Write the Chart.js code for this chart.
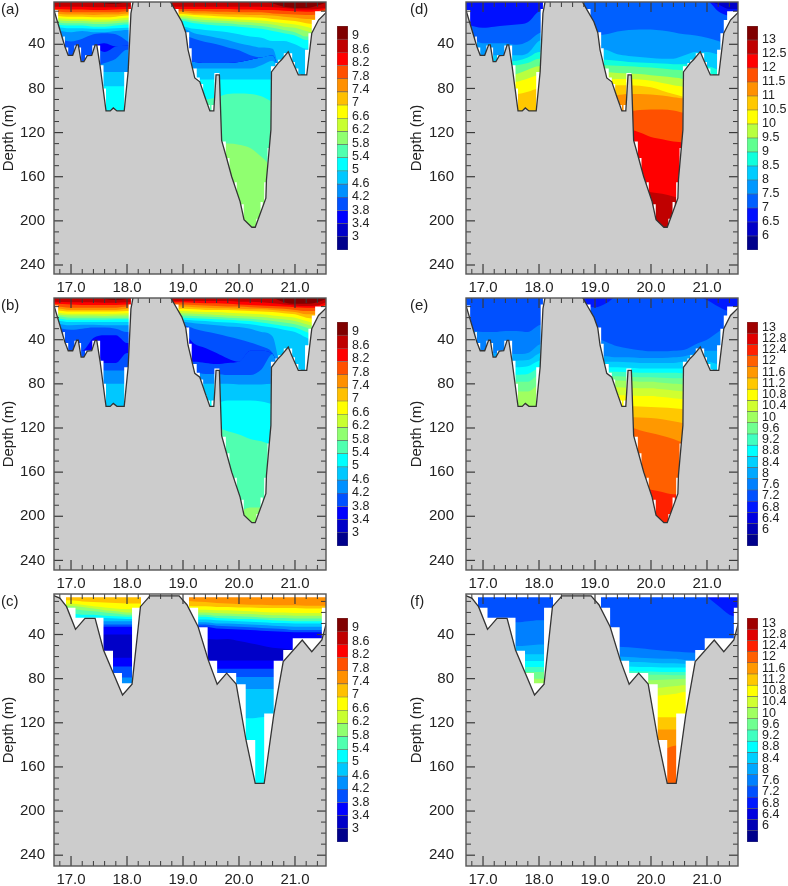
<!DOCTYPE html>
<html><head><meta charset="utf-8">
<style>
html,body{margin:0;padding:0;background:#fff;width:788px;height:886px;overflow:hidden}
canvas{position:absolute}
.tag{position:absolute;font:15px "Liberation Sans",sans-serif;color:#222;line-height:18px}
</style>
<script src="https://cdn.jsdelivr.net/npm/chart.js@4"></script>
</head><body>
<script>
const xNodes=[16.69,17,17.2,17.4,17.6,17.8,18,18.2, 19,19.2,19.4,19.6,19.8,20,20.2,20.4,20.6,20.8,21,21.2,21.4,21.56];
const xMajor=[17,18,19,20,21];
const xMinor=[16.8,17.2,17.4,17.6,17.8,18.2,18.4,18.6,18.8,19.2,19.4,19.6,19.8,20.2,20.4,20.6,20.8,21.2,21.4];
const yMajor=[40,80,120,160,200,240];
const yMinor=[10,20,30,50,60,70,90,100,110,130,140,150,170,180,190,210,220,230];

const terrainLonFine=[16.69,16.89,16.95,17.03,17.10,17.13,17.18,17.23,17.29,17.37,17.43,17.46,17.52,17.625,17.70,17.755,17.82,17.95,18.02,18.07,18.11,18.77,18.86,18.98,19.05,19.09,19.21,19.30,19.39,19.48,19.55,19.59,19.65,19.69,19.78,19.87,20.02,20.09,20.23,20.29,20.48,20.49,20.57,20.58,20.70,20.76,20.88,20.94,21.06,21.21,21.30,21.42,21.57];
const terrainDepFine=[8,42,50,50,40.5,40.5,55.7,55.7,50.3,50,40.6,40.6,60,100.4,100.4,97.7,100.4,100.4,65,12,1,1,9,19.5,29.5,45,70.5,74,87.5,100.4,100.4,67.8,67.8,127,143.3,160,182.6,199,205.8,205.8,179.5,163,117.6,65,57,54,46.7,54,67.8,67.8,30,18,10.5];
const terrainLonGrid=[16.69,16.80,16.92,17.08,17.25,17.43,17.58,17.92,18.09,18.24,18.41,18.93,19.07,19.27,19.45,19.61,19.78,19.95,20.125,20.29,20.45,20.62,20.79,21.13,21.30,21.48,21.57];
const terrainDepGrid=[4.8,7,14.8,35.3,25.3,25.3,54,94.8,85,14.8,5,5,13,33,63,85,75,85,135.6,175,175,113,64.6,45,55.6,45,28];

const maskLonFine=[16.69,16.77,16.86,16.89,16.95,17.06,17.12,17.18,17.25,17.29,17.38,17.46,17.52,17.58,17.625,17.95,18.03,18.07,18.8,18.92,19.05,19.11,19.155,19.245,19.3,19.36,19.42,19.48,19.51,19.56,19.65,19.765,19.79,19.83,19.92,19.96,20.04,20.085,20.31,20.345,20.385,20.425,20.45,20.485,20.51,20.545,20.57,20.65,20.7,20.8,20.88,20.95,21.0,21.06,21.1,21.18,21.24,21.3,21.36,21.42,21.57];
const maskDepFine=[9,40,33,43,50,41,43,56,50,50,41,41,59,80,100.4,65,8,1,8,30,29,43.6,62,70,76,90,95,100.4,95,66,128,206,143,206,165,206,185,206,198,206,183,206,165,206,134,206,60,57,54,48,48,56,62,67,68,45,30,18,10,10,10];
const maskLonGrid=[16.69,16.91,17.08,17.58,17.75,17.91,18.09,18.25,19.107,19.27,19.44,19.61,19.95,20.12,20.29,20.45,20.62,20.79,20.96,21.48,21.57];
const maskDepGrid=[1,15.7,24.8,54.7,75,84.2,15.7,1,15.7,33.5,63.7,75,85,135.6,176,111.5,63.7,54,43.5,15.7,15.7];
const gridTopDepth=6.3;

const colorsThree=['#00008c','#0000c8','#0000ff','#0050ff','#0090ff','#00c8ff','#00ffff','#50ffb0','#90ff70','#c8ff30','#ffff00','#ffc000','#ff9000','#ff5000','#ff0000','#c00000','#800000'];
const labelsThree=['3','3.4','3.8','4.2','4.6','5','5.4','5.8','6.2','6.6','7','7.4','7.8','8.2','8.6','9'];
const colorsHalf=['#00008c','#0000c8','#0010ff','#0060ff','#0098ff','#00ccff','#10ffdc','#60ff90','#b8ff40','#ffff00','#ffc800','#ff9000','#ff5000','#ff0000','#c00000','#800000'];
const labelsHalf=['6','6.5','7','7.5','8','8.5','9','9.5','10','10.5','11','11.5','12','12.5','13'];
const colorsFine=['#00008c','#0000b4','#0000e0','#0018ff','#0050ff','#0080ff','#00a8ff','#00d0ff','#00ffff','#40ffc0','#70ff90','#a0ff60','#d0ff30','#ffff00','#ffc800','#ff9800','#ff6000','#ff2000','#e00000','#a00000'];
const labelsFine=['6','6.4','6.8','7.2','7.6','8','8.4','8.8','9.2','9.6','10','10.4','10.8','11.2','11.6','12','12.4','12.8','13'];

const orderA=[16,15,14,13,12,11,10,9,8,7,6,5,4,3,2,3,4,5,6,7,8];
const bandsA=[
[1,1,1,1,3,3.5,2,1, 1,1,1,1,1,1,1,1,3,6,7,7,5,2],
[6,6,6,6.5,6.5,6.5,6,6, 6,6,6,6,6,6,6,6,6.5,7,8,8.5,8,7],
[8,8.5,8.5,9,9,8.5,8,8, 8,8,8,8,8,8.5,8.5,9,9,9.5,10,10.5,10,8],
[10,11,11,11,11,11,10,10, 9.5,10,10,10.5,10.5,11,11,11,12,12.5,13,13.5,13,10],
[12,13,13,13.5,13,13,12,12, 11,12,12,12.5,13,13,13.5,13.5,14,15,16,17,17,13],
[14,15,15,15.5,15.5,15,14,14, 12.5,13.5,14,14.5,15,15.5,15.5,16,17,18,19,21,22,16],
[16,17,17,17.5,17.5,17,16,16, 14,15,16,16.5,17,17.5,18,18.5,19.5,21,22,24,26,19],
[18,19,19,19.5,19.5,19,18,18, 15.5,17,18,18.5,19,19.5,20,21,22,24,25,28,30,22],
[20,21,21,21.5,21.5,21,20,20, 17,19,20,20.5,21,22,22.5,23.5,25,27,29,33,33,25],
[22,23,23,24,24,23,22,22, 19,21,22,23,23.5,24,25,26,28,30,32,36,36,28],
[24,25.5,25.5,26,26,25.5,25,25, 24,26,27,28,29,31,33,34,37,37,40,44,44,30],
[27,29,28,29,29,28,27,27, 26,30,32,34,36,39,41,43,44,75,75,75,75,75],
[33,37.5,35,31,30,31,37,45, 32,35,38,40,43,45.5,50,52,50,75,75,75,75,75],
[60,60,60,43,39,42,41,45, 55,56,57,57,57,56,54,52,50,75,75,75,75,75],
[60,60,60,43,47,42,41,45, 55,56,57,57,57,56,54,52,50,75,75,75,75,75],
[60,60,60,60,57,53,45,45, 55,56,57,57,57,56,54,52,50,75,75,75,75,75],
[62,62,62,62,65,65,65,65, 62,62,62,62,62,62,62,59,55,75,75,75,75,75],
[78,78,78,78,78,78,78,78, 72,72,72,72,72,72,72,72,72,75,75,75,75,75],
[110,110,110,110,110,110,110,110, 90,90,90,88,85,84.5,85,87,92,95,95,95,95,95],
[120,120,120,120,120,120,120,120, 130,130,130,130,130,131,134,142,150,150,150,150,150,150]];

const orderB=[16,15,14,13,12,11,10,9,8,7,6,5,4,3,2,3,4,5,6,7,8];
const bandsB=[
[1,1,1,1,3,4,3,1, 1,1,1,1,1,1,1,1,2,6,7.5,7.5,6,3],
[5.5,6,6,6,6.5,6.5,6,6, 5,5,5,5,5,5.5,5.5,6,7,8,9,9.5,9,6],
[7.5,8,8.5,8.5,8.5,8.5,8,8, 6,6.5,7,7,7.5,8,8.5,9,9.5,10,10.5,11,11,8],
[9.5,11,11,11,11,11,10,10, 8,8.5,9,9.5,10,10,10.5,11,11.5,12,13,14,14,10],
[11,13,13,13,13,13,12,12, 10,10.5,11,11.5,11.5,12,12.5,12.5,13,14,15,17,17,12],
[13,14.5,14.5,14.5,14.5,14.5,14,14, 12,12.5,13,13,13,13.5,14,14.5,15,16,17,20,21,14],
[15,16.5,16.5,16.5,16.5,16.5,16,16, 14,14.5,15,15,15.5,16,16.5,17,18,19,20,23,25,17],
[17,18,18,18,18.5,18,18,18, 16,16.5,17,17.5,18,18.5,19,19.5,20.5,21.5,23,26,28,20],
[18,20,20,20,20,20,20,20, 18,18.5,19,19.5,20,20.5,21,22,23,24.5,26,29,32,23],
[20,22,22,22,22,21.5,21.5,21.5, 20,20.5,21,21.5,22,22.5,23,24.5,26,27.5,29,33,36,26],
[22,24,24,24,24,24,24,24, 22,22.5,23,24,24.5,25,26,27.5,29,31,33,38,42,29],
[25,27,26.5,26.5,27,27,27,27, 24,25,26,27,28,28.5,30,33,37,75,75,75,75,75],
[29,31,30,29,29,30,33,33, 27,30,32.5,34.5,37,39.5,42.5,46,52,75,75,75,75,75],
[50,50,50,38.5,36,36,43,43, 34,43.6,47.5,52,57,60,50,50,53,75,75,75,75,75],
[50,50,50,49,61,61,52,52, 60,60,61,62,61,60,50,50,53,75,75,75,75,75],
[60,60,60,60,68,68,68,68, 70,70,71,71,72,72,72,67,53,75,75,75,75,75],
[80,80,80,80,80,80,80,80, 80,80,80,80,80,80.5,80.5,80.5,80,80,80,80,80,80],
[110,110,110,110,110,110,110,110, 94,94,94,97,95,95,95,96,98,98,98,98,98,98],
[120,120,120,120,120,120,120,120, 120,120,120,120,123,126,130,132,135,135,135,135,135,135],
[130,130,130,130,130,130,130,130, 195,195,195,195,195,195,192,192,192,192,192,192,192,192]];

const orderC=[12,11,10,9,8,7,6,5,4,3,2,1,2,3,4,5,6];
const bandsC=[
[6,6,6,6,6,6,6,6, 9.5,10,10.5,11.5,12,12.5,13,13,13.5,13.5,13.5,14,14,14],
[9,9,10,10.5,11,11.5,12,12, 14,14.5,14.5,15,15,15.5,15.5,16,16,16,16,16.5,16.5,16.5],
[12,12,13,14.5,15.5,16.5,17,17, 17,17.5,17.5,18,18,18.5,19,19.5,20,20,20.5,20.5,20.5,20.5],
[14,14,15,16.5,18,19,20,20, 19.5,20,20,20.5,21,21.5,21.5,22,22.5,22.5,23,23,23,23],
[17,17,18,19,20,21,22,22, 21.5,22,22,23,23,23.5,24,24.5,25,25,25.5,25.5,25.5,25.5],
[21,21,22,22,23,23.5,24,24, 23.5,24,24,25,25.5,26,26,26.5,27,27.5,28,28,28,28],
[25,25,25,25,25,25.5,26,26, 26,26.5,26.5,27,27.5,28,28.5,29,29.5,29.5,30,30,30,30],
[28,28,28,28,28,28,28,28, 28.5,29,29,30,30,30.5,31,31.5,32,32.5,33,33,33,33],
[31,31,31,31,31,31,31,31, 31,31,31,32,32.5,33,33.5,34,34.5,35,36,36,36,36],
[33,33,33,33,33,33,33,33, 33,33,33,34.5,35,35.5,36,36.5,37,37.5,38,38,38,38],
[40,40,40,40,40,40,40,40, 44,44,44,44.5,44,46,48,50,52,53,54,55,55,55],
[61,61,61,61,61,61,61,61, 63.5,63.5,63.5,63.5,63.5,63.5,63.5,63.5,63.5,63.5,63.5,63.5,63.5,63.5],
[69,69,69,69,69,69,69,69, 71,71,71,71,71,71,71,71,71,71,71,71,71,71],
[79,79,79,79,79,79,79,79, 78.6,78.6,78.6,78.6,78.6,78.6,78.6,78.6,78.6,78.6,78.6,78.6,78.6,78.6],
[90,90,90,90,90,90,90,90, 89.5,89.5,89.5,89.5,89.5,89.5,89.5,89.5,89.5,89.5,89.5,89.5,89.5,89.5],
[120,120,120,120,120,120,120,120, 116,116,116,116,116,116,116,115,114,114,114,114,114,114]];

const orderD=[1,2,3,4,5,6,7,8,9,10,11,12,13,14];
const bandsD=[
[1,1,1,1,1,1,1,1, 1,1,1,1,1,1,1,1,1,1,1,4,8,8],
[22,25,24,23,22,20,10,8, 1,1,1,1,1,1,1,1,1,1,1,10,14,14],
[30,39,39,39,40.5,37.5,30,28, 32,31,28.5,27,26.5,26.5,27.5,29,31,32,34,37,40,40],
[50,50,50,50,50,48,37,35, 44,45,49,50.5,51.5,52.5,53,53,50,47,47,49,48,48],
[60,60,56,56,55,52,47,47, 53,54,55,56,56.5,57,57.5,58,58,60,60,63,65,65],
[62,62,60,60,59,57,53,53, 58,59,59.5,60,60.5,61,62,63,64,70,75,75,75,75],
[70,70,70,70,67,63,60,60, 64,65,66,66.5,67,68,69,70,72,80,80,80,80,80],
[75,75,75,75,74,71,68,68, 72,72,71.5,71.5,72,73,75,77,79,85,85,85,85,85],
[85,85,85,85,85,83,80,80, 77,77,77,77,77.5,79,82,85,88,92,92,92,92,92],
[110,110,110,110,110,110,110,110, 87,87,86,85,85,85.5,86.5,88,89,89,89,89,89,89],
[120,120,120,120,120,120,120,120, 100,100,100,100.5,99.5,99,99,100,102,102,102,102,102,102],
[130,130,130,130,130,130,130,130, 117,117,117,117,120,124,126,128,129,130,130,130,130,130],
[180,180,180,180,180,180,180,180, 172,172,172,172,172,174,175.5,178,180,180,180,180,180,180]];

const orderE=[3,4,5,6,7,8,9,10,11,12,13,14,15,16,17];
const bandsE=[
[1,1,1,1,1,1,1,1, 10.7,7,1,1,1,1,1,1,1,1,4,10,14,14],
[30,33,33,32,32,33,27,25, 38,42,46,48,49.5,50.5,50.5,50,49,44,40,33,26,22],
[50,52,52,52,53,52,44.5,42, 54,55,56,56,56.5,56.5,56.5,56,55,52,50,50,45,40],
[60,60,60,60,59,58.4,52.4,50, 59,60,60,60.5,61,61,61,61,60,60,60,62,60,55],
[66,66,66,66,65,64,59,57, 65,65,65,65.5,66,66,66,66,66,72,72,72,72,72],
[72,72,72,72,71.7,71,65.7,64, 69,69,69,69.5,70,70,70,70,71,75,75,75,75,75],
[78,78,78,78,78,78,71.7,71, 73,73,73,73.5,74,74,74.5,75,75,80,80,80,80,80],
[87,87,87,87,87,87,80.8,80, 77,77,77,77.5,78,78,79,80,81,85,85,85,85,85],
[110,110,110,110,110,110,110,110, 83,83,83,83.5,84,84,85,86,87,90,90,90,90,90],
[120,120,120,120,120,120,120,120, 90,90,90,90.5,91,91,92,93,94,96,96,96,96,96],
[120,120,120,120,120,120,120,120, 100,100,100,100,100.5,101,101.5,102,103,104,104,104,104,104],
[130,130,130,130,130,130,130,130, 110,110,110,110,110.5,111,112,114,116,118,118,118,118,118],
[140,140,140,140,140,140,140,140, 119,119,119,119,122,124.5,127,130,134,137,137,137,137,137],
[180,180,180,180,180,180,180,180, 175,175,175,175,175,176,178,180,180,180,180,180,180,180]];

const orderF=[3,4,5,6,7,8,9,10,11,12,13,14,15,16];
const bandsF=[
[1,1,1,1,1,1,1,1, 1,1,1,1,1,1,1,1,1,1,6,14,22,24],
[30,30,30,29,29,28,27,27, 50,50,51,51.5,52.5,53.5,54.5,55.5,56,56.5,57,57,57,57],
[50,50,50,50,50.5,50,49,49, 60,60,60,60.5,61,61.5,62,62,63,64,64,64,64,64],
[58,58,58,58,58,58,58,58, 65,65,65,65,65,65.5,66,66,66.5,67,67,67,67,67],
[64,64,64,64,64,64,64,64, 69,69,69,69,69.5,69.5,70,70,70,70,70,70,70,70],
[69.5,69.5,69.5,69.5,69.5,69.5,69.5,69.5, 73,73,73,73,73.5,73.5,74,74,74,74,74,74,74,74],
[74,74,74,74,74,74,74,74, 76,76,76,76,76.5,76.5,76.5,77,77,77,77,77,77,77],
[80,80,80,80,80,80,80,80, 81,81,81,81,81.5,81.5,81,80.5,80,80,80,80,80,80],
[90,90,90,90,90,90,90,90, 88,88,88,88,88.5,88.5,88,87,86,86,86,86,86,86],
[120,120,120,120,120,120,120,120, 95,95,95,95,95.5,95.5,95,94,92,92,92,92,92,92],
[120,120,120,120,120,120,120,120, 115,115,115,115,115,115,115,115,115,115,115,115,115,115],
[130,130,130,130,130,130,130,130, 126,126,126,126,126,126,126,126,126,126,126,126,126,126],
[150,150,150,150,150,150,150,150, 144,144,144,144,144,144,144,141,140,140,140,140,140,140]];

const font='"Liberation Sans",sans-serif';
function pts(xs,ys){return xs.map((x,i)=>({x:x,y:ys[i]}));}
function canvas(l,t,w,h){const c=document.createElement('canvas');c.width=w;c.height=h;c.style.left=l+'px';c.style.top=t+'px';c.style.width=w+'px';c.style.height=h+'px';document.body.appendChild(c);return c;}
function tag(txt,l,t){const d=document.createElement('div');d.className='tag';d.textContent=txt;d.style.left=l+'px';d.style.top=t+'px';document.body.appendChild(d);}

const inwardTicks={id:'inwardTicks',afterDraw(ch){
  const c=ch.ctx,a=ch.chartArea,xs=ch.scales.x,ys=ch.scales.y;
  c.save();c.strokeStyle='#3a3a3a';
  const seg=(x1,y1,x2,y2)=>{c.beginPath();c.moveTo(x1,y1);c.lineTo(x2,y2);c.stroke();};
  c.lineWidth=1;
  xMinor.forEach(v=>{const p=xs.getPixelForValue(v);seg(p,a.bottom,p,a.bottom-5);seg(p,a.top,p,a.top+5);});
  yMinor.forEach(v=>{const p=ys.getPixelForValue(v);if(p>a.top&&p<a.bottom){seg(a.left,p,a.left+5,p);seg(a.right,p,a.right-5,p);}});
  c.lineWidth=1.2;
  xMajor.forEach(v=>{const p=xs.getPixelForValue(v);seg(p,a.bottom,p,a.bottom-10);seg(p,a.top,p,a.top+10);});
  yMajor.forEach(v=>{const p=ys.getPixelForValue(v);seg(a.left,p,a.left+9,p);seg(a.right,p,a.right-9,p);});
  c.strokeStyle='#555';c.lineWidth=1.4;c.strokeRect(a.left,a.top,a.right-a.left,a.bottom-a.top);
  c.restore();
}};

function panel(opt){
  const pad=6,axisW=opt.axisW;
  const cv=canvas(opt.left-axisW,opt.top-pad,axisW+272+3,pad+272+28);
  const sets=[];
  sets.push({data:pts(opt.tLon,opt.tDep),fill:'start',backgroundColor:'#cccccc',borderColor:'#333',borderWidth:1.3,tension:0,pointRadius:0});
  if(opt.topMask)sets.push({data:pts([16.69,21.57],[gridTopDepth,gridTopDepth]),fill:'end',backgroundColor:'#fff',borderWidth:0,pointRadius:0});
  sets.push({data:pts(opt.mLon,opt.mDep),fill:'start',backgroundColor:'#fff',borderWidth:0,stepped:true,pointRadius:0});
  opt.bands.forEach((b,i)=>sets.push({data:pts(xNodes,b),fill:'end',backgroundColor:opt.colors[opt.order[i]],borderWidth:0,cubicInterpolationMode:'monotone',pointRadius:0}));
  const bg=opt.colors[opt.order[opt.bands.length]];
  sets.push({data:pts([16.69,21.57],[opt.ymax+5,opt.ymax+5]),fill:'end',backgroundColor:bg,borderWidth:0,pointRadius:0});
  new Chart(cv,{type:'line',data:{datasets:sets},plugins:[inwardTicks],options:{
    responsive:false,animation:false,devicePixelRatio:1,
    layout:{padding:{top:pad,right:3,left:0,bottom:0}},
    plugins:{legend:{display:false},tooltip:{enabled:false}},
    scales:{
      x:{type:'linear',min:16.696,max:21.554,grid:{display:false,drawTicks:false},border:{display:false},
        afterBuildTicks(s){s.ticks=xMajor.map(v=>({value:v}));},
        afterFit(s){s.height=28;s.paddingLeft=0;s.paddingRight=0;},
        ticks:{autoSkip:false,maxRotation:0,padding:5,color:'#222',font:{family:font,size:15},callback:v=>Number(v).toFixed(1)}},
      y:{type:'linear',reverse:true,min:opt.ymin,max:opt.ymax,grid:{display:false,drawTicks:false},border:{display:false},
        afterBuildTicks(s){s.ticks=yMajor.map(v=>({value:v}));},
        afterFit(s){s.width=axisW;s.paddingTop=0;s.paddingBottom=0;},
        title:{display:true,text:'Depth (m)',color:'#222',font:{family:font,size:15},padding:{top:0,bottom:0}},
        ticks:{autoSkip:false,padding:opt.tickPad,color:'#222',font:{family:font,size:15}}}
    }}});
}

function colorbar(l,t,colors,labels,shift,stretch){
  const w=60,h=226;
  const cv=canvas(l,t-1,w,h);
  const sets=colors.map((c,i)=>({data:[[i,i+1]],backgroundColor:c,borderColor:'#666',borderWidth:0.6,borderSkipped:false,barPercentage:1,categoryPercentage:1,grouped:false}));
  const tickVals=labels.map((_,i)=>1+shift+i*stretch);
  new Chart(cv,{type:'bar',data:{labels:[''],datasets:sets},options:{
    responsive:false,animation:false,devicePixelRatio:1,
    layout:{padding:{top:1,bottom:1,left:1,right:0}},
    plugins:{legend:{display:false},tooltip:{enabled:false}},
    scales:{
      x:{display:false,grid:{display:false}},
      y:{position:'right',type:'linear',min:0,max:colors.length,grid:{display:false,drawTicks:false},border:{display:false},
        afterBuildTicks(s){s.ticks=tickVals.map(v=>({value:v}));},
        afterFit(s){s.width=48;s.paddingTop=0;s.paddingBottom=0;},
        ticks:{autoSkip:false,padding:4,color:'#222',font:{family:font,size:12.5},callback:(v,i)=>labels[i]}}
    }}});
}

const rowTop=[2,298,594];
const rowMin=[1.67,2.2,3.3];
function rows(i){return {top:rowTop[i],ymin:rowMin[i],ymax:rowMin[i]+272/1.1035};}
panel({left:54,axisW:54,tickPad:9,...rows(0),tLon:terrainLonFine,tDep:terrainDepFine,mLon:maskLonFine,mDep:maskDepFine,bands:bandsA,order:orderA,colors:colorsThree});
panel({left:54,axisW:54,tickPad:9,...rows(1),tLon:terrainLonFine,tDep:terrainDepFine,mLon:maskLonFine,mDep:maskDepFine,bands:bandsB,order:orderB,colors:colorsThree});
panel({left:54,axisW:54,tickPad:9,...rows(2),tLon:terrainLonGrid,tDep:terrainDepGrid,mLon:maskLonGrid,mDep:maskDepGrid,bands:bandsC,order:orderC,colors:colorsThree,topMask:true});
panel({left:466,axisW:58,tickPad:12,...rows(0),tLon:terrainLonFine,tDep:terrainDepFine,mLon:maskLonFine,mDep:maskDepFine,bands:bandsD,order:orderD,colors:colorsHalf});
panel({left:466,axisW:58,tickPad:12,...rows(1),tLon:terrainLonFine,tDep:terrainDepFine,mLon:maskLonFine,mDep:maskDepFine,bands:bandsE,order:orderE,colors:colorsFine});
panel({left:466,axisW:58,tickPad:12,...rows(2),tLon:terrainLonGrid,tDep:terrainDepGrid,mLon:maskLonGrid,mDep:maskDepGrid,bands:bandsF,order:orderF,colors:colorsFine,topMask:true});

colorbar(336,26,colorsThree,labelsThree,0,1.016);
colorbar(336,322,colorsThree,labelsThree,0,1.016);
colorbar(336,618,colorsThree,labelsThree,0,1.016);
colorbar(746,26,colorsHalf,labelsHalf,0,1);
colorbar(746,322,colorsFine,labelsFine,0.45,1.005);
colorbar(746,618,colorsFine,labelsFine,0.45,1.005);

tag('(a)',1,0);tag('(b)',1,296);tag('(c)',1,592);
tag('(d)',410,0);tag('(e)',410,296);tag('(f)',410,592);
</script>
</body></html>
